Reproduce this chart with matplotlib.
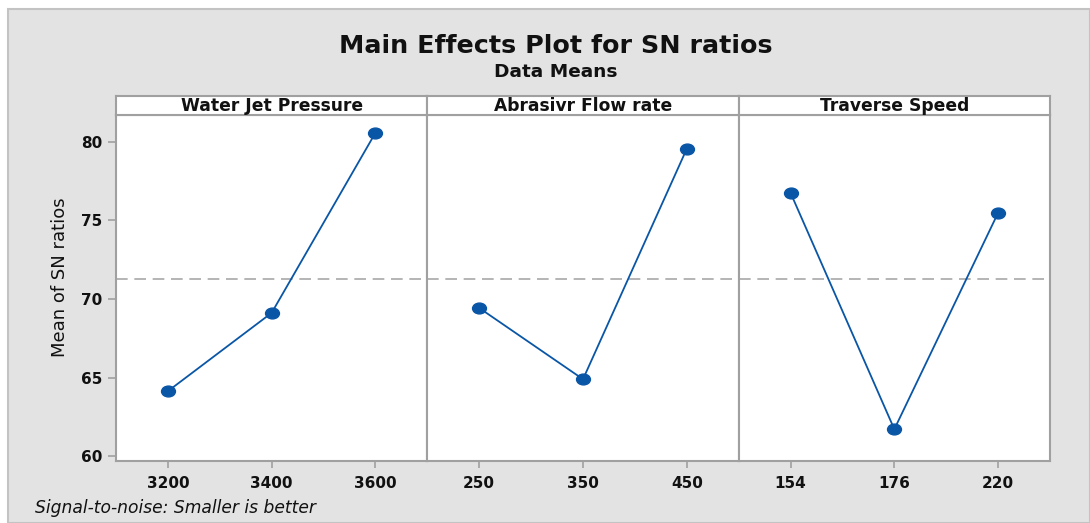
import matplotlib
matplotlib.use("Agg")
import matplotlib.pyplot as plt
import numpy as np
from matplotlib.path import Path
from matplotlib.patches import Rectangle

factors = ["Water Jet Pressure", "Abrasivr Flow rate", "Traverse Speed"]
levels_wjp = ["3200", "3400", "3600"]
levels_afr = ["250", "350", "450"]
levels_ts = ["154", "176", "220"]
sn_wjp = [64.14, 69.12, 80.57]
sn_afr = [69.43, 64.90, 79.55]
sn_ts = [76.75, 61.72, 75.48]
yticks = [60, 65, 70, 75, 80]

levels = [levels_wjp, levels_afr, levels_ts]
values = [sn_wjp, sn_afr, sn_ts]
grand_mean = np.mean(sn_wjp)

W, H = 1090, 523
fig = plt.figure(figsize=(W / 100, H / 100), dpi=100)
fig.patch.set_facecolor("white")

# outer gray panel
bg = Rectangle((8 / W, 0), 1 - 8 / W, (H - 9) / H, transform=fig.transFigure,
               facecolor="#e3e3e3", edgecolor="#c3c3c3", linewidth=1.5, zorder=-10)
fig.patches.append(bg)

def fx(px):
    return px / W

def fy(py):
    return 1 - py / H

left, right = 116, 1050
top_strip, top_plot, bottom = 96, 115, 461
pw = (right - left) / 3

spine_c = "#a0a0a0"
blue = "#0a56a6"

ell = Path.unit_circle()
ell = Path(ell.vertices * np.array([1.0, 0.78]), ell.codes)

for i in range(3):
    x0 = left + i * pw
    ax = fig.add_axes([fx(x0), fy(bottom), pw / W, (bottom - top_plot) / H])
    ax.set_facecolor("white")
    xs = np.arange(3)
    ax.plot(xs, values[i], color=blue, linewidth=1.3, zorder=3)
    ax.plot(xs, values[i], linestyle="none", marker=ell, markersize=10,
            color=blue, markeredgecolor=blue, zorder=4)
    ax.axhline(grand_mean, color="#a8a8a8", linewidth=1.2, dashes=(7, 4), zorder=2)
    ax.set_xlim(-0.5, 2.5)
    ax.set_ylim(59.7, 81.7)
    ax.set_xticks(xs)
    ax.set_xticklabels(levels[i], fontsize=11, fontweight="semibold")
    ax.set_yticks(yticks)
    for s in ax.spines.values():
        s.set_color(spine_c)
        s.set_linewidth(1.5)
    ax.tick_params(axis="x", direction="out", length=5, width=1.2, color=spine_c,
                   pad=6, labelcolor="#111111")
    if i == 0:
        ax.tick_params(axis="y", direction="out", length=6, width=1.2, color=spine_c,
                       labelsize=11, pad=4, labelcolor="#111111")
        for lab in ax.get_yticklabels():
            lab.set_fontweight("semibold")
    else:
        ax.tick_params(axis="y", left=False, labelleft=False)

    # header strip
    hx = fig.add_axes([fx(x0), fy(top_plot), pw / W, (top_plot - top_strip) / H])
    hx.set_facecolor("white")
    hx.set_xticks([])
    hx.set_yticks([])
    for s in hx.spines.values():
        s.set_color(spine_c)
        s.set_linewidth(1.5)
    hx.text(0.5, 0.45, factors[i], ha="center", va="center", fontsize=12.3,
            fontweight="semibold", color="#111111", transform=hx.transAxes)

fig.text(fx(60), fy(277), "Mean of SN ratios", rotation=90, ha="center", va="center",
         fontsize=13, color="#111111")
fig.text(fx(556), fy(46), "Main Effects Plot for SN ratios", ha="center", va="center",
         fontsize=18.3, color="#111111", fontweight="semibold")
fig.text(fx(556), fy(72), "Data Means", ha="center", va="center",
         fontsize=13.3, color="#111111", fontweight="semibold")
fig.text(fx(35), fy(508), "Signal-to-noise: Smaller is better", ha="left", va="center",
         fontsize=12.3, style="italic", color="#111111")

fig.savefig("out.png", dpi=100, facecolor=fig.get_facecolor())
